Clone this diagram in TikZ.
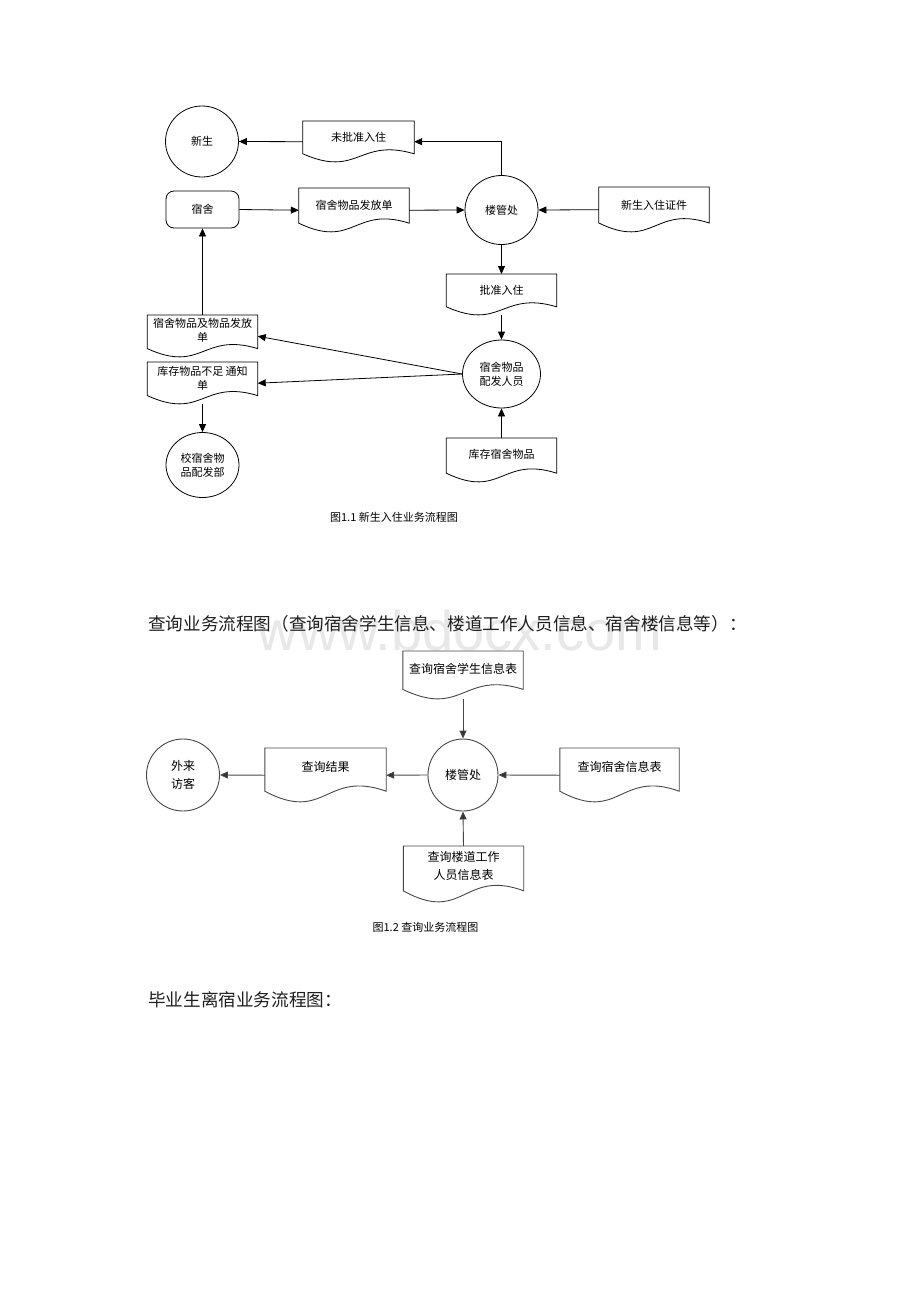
\documentclass[tikz,border=0pt]{standalone}
\usepackage{fontspec}
\setmainfont{Noto Sans CJK SC}
\newfontfamily\wmfont{Liberation Sans}
\usetikzlibrary{arrows.meta,calc,shapes.geometric}

\tikzset{
  lineA/.style={draw=black, line width=0.8pt},
  lineB/.style={draw=black!72, line width=0.9pt},
  arrA/.style={lineA, -{Triangle[length=8pt,width=7pt]}},
  arrB/.style={lineB, -{Triangle[length=8pt,width=7pt,fill=black!80]}},
  docbox/.style={rectangle, inner sep=0pt, draw=none},
  txtA/.style={font=\fontsize{11}{14}\selectfont, align=center, inner sep=0pt},
  txtB/.style={font=\fontsize{12}{18}\selectfont, align=center, inner sep=0pt},
  circA/.style={ellipse, lineA, inner sep=0pt, txtA},
  circB/.style={ellipse, lineB, inner sep=0pt, txtB},
  rrect/.style={rectangle, rounded corners=8pt, lineA, inner sep=0pt, txtA},
  capA/.style={font=\fontsize{11}{13}\selectfont, inner sep=0pt},
  headA/.style={font=\fontsize{17.6}{20}\selectfont, text=black!88, inner sep=0pt, anchor=west},
}

% #1 name, #2 centre x, #3 top y, #4 width, #5 height, #6 text offset, #7 text style, #8 line style, #9 text
\newcommand{\mydoc}[9]{%
  \node[docbox, minimum width=#4pt, minimum height=#5pt, anchor=north] (#1) at (#2,#3) {};
  \draw[#8] ($(#1.north west)+(0,0.8*#5)$) -- (#1.north west) -- (#1.north east)
    -- ($(#1.north east)+(0,0.8*#5)$)
    .. controls ($(#1.north)+(0,0.4*#5)$) and ($(#1.north)+(0,1.4*#5)$)
    .. ($(#1.north west)+(0,0.8*#5)$) -- cycle;
  \node[#7] (#1t) at ($(#1.north)+(0,#6)$) {#9};
}

\begin{document}
\begin{tikzpicture}[x=1pt,y=-1pt]
\useasboundingbox (0,0) rectangle (920,1302);
\fill[white] (0,0) rectangle (920,1302);

% ---------------- Figure 1.1 ----------------
\node[circA, minimum width=73pt, minimum height=71pt] (xs) at (202,141.5) {新生};
\node[rrect, minimum width=73pt, minimum height=37pt] (ss) at (202.5,209.5) {宿舍};
\mydoc{wpz}{358.5}{121}{111}{41}{16}{txtA}{lineA}{未批准入住}
\mydoc{ffd}{354}{188}{110}{44}{17}{txtA}{lineA}{宿舍物品发放单}
\node[circA, minimum width=73pt, minimum height=69pt] (lgc) at (501.5,210) {楼管处};
\mydoc{zj}{654}{187}{110}{45}{18}{txtA}{lineA}{新生入住证件}
\mydoc{pz}{501.5}{274}{110}{41}{16}{txtA}{lineA}{批准入住}
\node[circA, minimum width=78pt, minimum height=68pt] (pf) at (501.5,374) {宿舍物品\\配发人员};
\mydoc{wpd}{202.5}{315}{110}{42}{15}{txtA}{lineA}{宿舍物品及物品发放\\单}
\mydoc{kc}{202.5}{362}{110}{42}{16}{txtA}{lineA}{库存物品不足 通知\\单}
\node[circA, minimum width=73pt, minimum height=65pt] (xb) at (202.5,465) {校宿舍物\\品配发部};
\mydoc{kcss}{501.5}{438}{110}{44}{16}{txtA}{lineA}{库存宿舍物品}
\node[capA] (cap1) at (394,517) {图1.1 新生入住业务流程图};

\draw[arrA] (lgc.north) |- (wpz.east);
\draw[arrA] (wpz.west) -- (xs.east);
\draw[arrA] (ss.east) -- (ffd.west);
\draw[arrA] (ffd.east) -- (lgc.west);
\draw[arrA] (zj.west) -- (lgc.east);
\draw[arrA] (lgc.south) -- (pz.north);
\draw[arrA] (pz.south) -- (pf.north);
\draw[arrA] (pf.west) -- (wpd.east);
\draw[arrA] (pf.west) -- (kc.east);
\draw[arrA] (wpd.north) -- (ss.south);
\draw[arrA] (kc.south) -- (xb.north);
\draw[arrA] (kcss.north) -- (pf.south);

% ---------------- Watermark and heading ----------------
\node[font=\wmfont\fontsize{56}{60}\selectfont, text=black!9, anchor=base, inner sep=0pt] (wm) at (460,650) {www.bdocx.com};
\node[headA] (h1) at (148,624) {查询业务流程图（查询宿舍学生信息、楼道工作人员信息、宿舍楼信息等）：};

% ---------------- Figure 1.2 ----------------
\mydoc{qa}{463}{651}{120}{48}{18}{txtB}{lineB}{查询宿舍学生信息表}
\node[circB, minimum width=73pt, minimum height=72pt] (fk) at (183,775) {外来\\访客};
\mydoc{qb}{325.5}{748}{121}{54}{19}{txtB}{lineB}{查询结果}
\node[circB, minimum width=70pt, minimum height=72pt] (lgb) at (463,775) {楼管处};
\mydoc{qc}{619.5}{748}{119}{54}{19}{txtB}{lineB}{查询宿舍信息表}
\mydoc{qd}{463.5}{846}{120}{56}{20}{txtB}{lineB}{查询楼道工作\\人员信息表}
\node[capA] (cap2) at (425.5,927) {图1.2 查询业务流程图};

\draw[arrB] (qa.south) -- (lgb.north);
\draw[arrB] (lgb.west) -- (qb.east);
\draw[arrB] (qb.west) -- (fk.east);
\draw[arrB] (qc.west) -- (lgb.east);
\draw[arrB] (qd.north) -- (lgb.south);

% ---------------- Heading 3 ----------------
\node[headA] (h2) at (148,1000) {毕业生离宿业务流程图：};
\end{tikzpicture}
\end{document}
